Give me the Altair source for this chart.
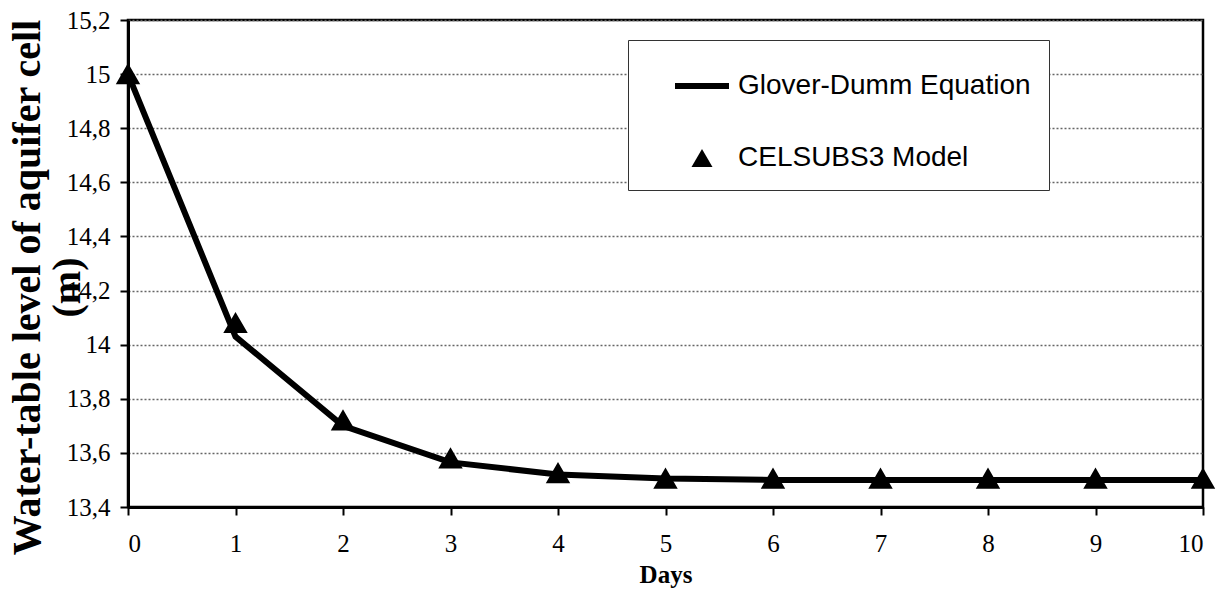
import altair as alt
import pandas as pd

days = list(range(11))
glover = [15.0, 14.03, 13.70, 13.565, 13.52, 13.505, 13.50, 13.50, 13.50, 13.50, 13.50]
celsubs = [15.0, 14.08, 13.72, 13.58, 13.525, 13.505, 13.505, 13.505, 13.505, 13.505, 13.505]
y_ticks = [13.4, 13.6, 13.8, 14.0, 14.2, 14.4, 14.6, 14.8, 15.0, 15.2]
series_names = ["Glover-Dumm Equation", "CELSUBS3 Model"]

df_line = pd.DataFrame({"Days": days, "level": glover, "series": series_names[0]})
df_pts = pd.DataFrame({"Days": days, "level": celsubs, "series": series_names[1]})

x = alt.X(
    "Days:Q",
    scale=alt.Scale(domain=[0, 10], nice=False),
    axis=alt.Axis(values=days, title="Days", grid=False,
                  labelFont="Liberation Serif", labelFontSize=25),
)
y = alt.Y(
    "level:Q",
    scale=alt.Scale(domain=[13.4, 15.2], nice=False, zero=False),
    axis=alt.Axis(
        values=y_ticks,
        labelExpr="replace(format(datum.value, '.1~f'), '.', ',')",
        labelFont="Liberation Serif", labelFontSize=25,
        title=["Water-table level of aquifer cell", "(m)"],
        grid=True,
    ),
)

legend = alt.Legend(
    title=None, orient="none", legendX=500, legendY=20,
    fillColor="white", strokeColor="#333", padding=18,
    symbolOffset=28, labelOffset=8, rowPadding=44,
    labelFont="Liberation Sans", labelFontSize=28, labelColor="black",
    labelLimit=600, symbolStrokeWidth=2, symbolStrokeColor="black",
    symbolFillColor="black",
)

# thin filled bar path used as the legend glyph of the line series
line_glyph = "M-1,-0.11L1,-0.11L1,0.11L-1,0.11Z"

line = alt.Chart(df_line).mark_line(color="black", strokeWidth=6).encode(x=x, y=y)
pts = alt.Chart(df_pts).mark_point(
    filled=True, color="black", stroke="black", strokeWidth=2,
    opacity=1, clip=False
).encode(
    x=x, y=y,
    shape=alt.Shape("series:N", scale=alt.Scale(domain=series_names, range=[line_glyph, "triangle-up"]), legend=legend),
    size=alt.Size("series:N", scale=alt.Scale(domain=series_names, range=[2916, 440]), legend=legend),
)

chart = (
    (line + pts)
    .properties(
        width=1075, height=487,
        autosize=alt.AutoSizeParams(type="none"),
        padding={"left": 128, "top": 20, "right": 19, "bottom": 85},
        background="white",
    )
    .configure_view(stroke="black", strokeWidth=2.5)
    .configure_axis(
        labelFont="Liberation Serif", labelColor="black",
        tickSize=8, tickWidth=2, tickColor="black",
        domainColor="black", domainWidth=3,
        titleFont="Liberation Serif", titleFontWeight="bold", titleColor="black",
        gridDash=[2, 2], gridColor="#666", gridWidth=1.5,
    )
    .configure_axisX(
        labelFont="Liberation Serif", labelFontSize=25, labelPadding=16,
        titleFontSize=25, titlePadding=6,
    )
    .configure_axisY(
        labelFont="Liberation Serif", labelFontSize=25, labelPadding=10, titleFontSize=40,
        titleX=-121, titleY=267, titleAlign="center", titleBaseline="top",
        titleLineHeight=40, titleAngle=270,
    )
)

chart.save("out.html", embed_options={"renderer": "svg", "actions": False})
